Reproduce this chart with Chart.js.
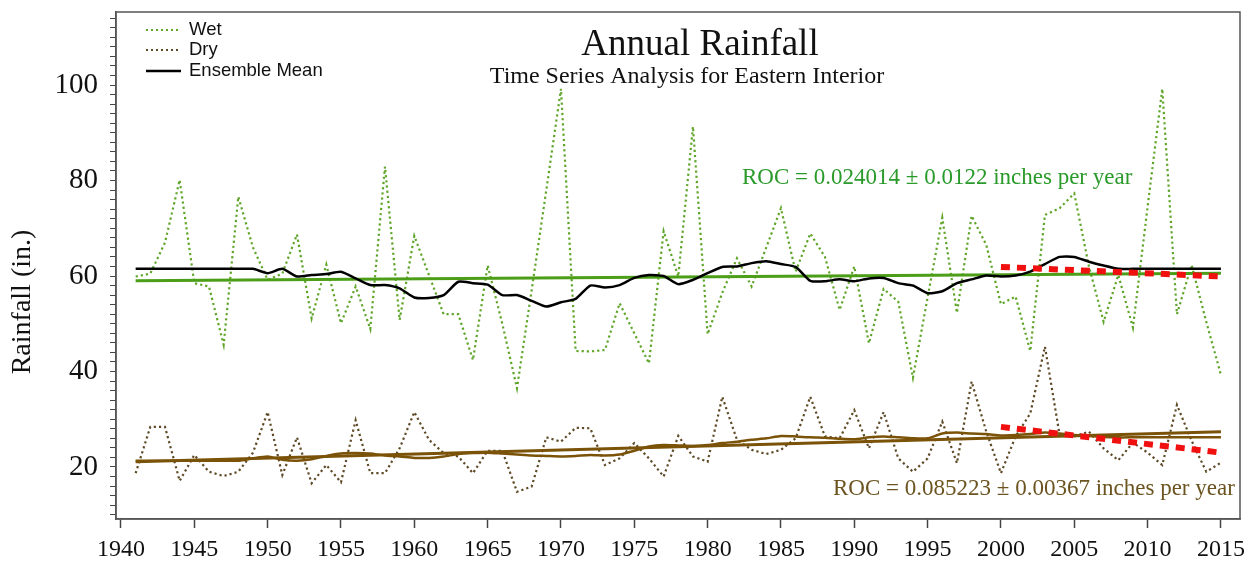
<!DOCTYPE html>
<html>
<head>
<meta charset="utf-8">
<script src="https://cdn.jsdelivr.net/npm/chart.js@4/dist/chart.umd.min.js"></script>
<style>
  body { margin: 0; background: #fff; }
</style>
</head>
<body>
<canvas id="rainChart" width="1254" height="571"></canvas>
<script>
const years = [1941, 1942, 1943, 1944, 1945, 1946, 1947, 1948, 1949, 1950,
    1951, 1952, 1953, 1954, 1955, 1956, 1957, 1958, 1959, 1960,
    1961, 1962, 1963, 1964, 1965, 1966, 1967, 1968, 1969, 1970,
    1971, 1972, 1973, 1974, 1975, 1976, 1977, 1978, 1979, 1980,
    1981, 1982, 1983, 1984, 1985, 1986, 1987, 1988, 1989, 1990,
    1991, 1992, 1993, 1994, 1995, 1996, 1997, 1998, 1999, 2000,
    2001, 2002, 2003, 2004, 2005, 2006, 2007, 2008, 2009, 2010,
    2011, 2012, 2013, 2014, 2015];

const wet = [59.9, 60.5, 67, 80.1, 58.5, 57.8, 45.6, 76.6, 66, 59.2,
    60.5, 68.7, 51.1, 62.4, 50.1, 57.8, 48.9, 82.9, 50.8, 68.4,
    60.2, 52.0, 52.0, 42.4, 62.2, 50, 36.5, 57, 78, 99.2,
    44.3, 44.2, 44.5, 54.3, 48, 41.7, 69.4, 59.9, 91.3, 47.8,
    56.5, 63.7, 57.8, 66, 74.2, 60.9, 68.9, 64, 52.9, 62,
    45.9, 57.3, 54.6, 38.7, 55.5, 72.2, 52.3, 72.6, 66.5, 54.1,
    55.7, 44.3, 72.8, 74.2, 77.3, 62, 50.4, 60.2, 49.2, 74.5,
    99.2, 52.0, 62.3, 50.4, 39.3];

const dry = [18.7, 28.4, 28.4, 17.1, 22.5, 19.0, 18.1, 19.0, 23, 31.5,
    18.3, 26.2, 16.6, 20.4, 16.8, 29.8, 18.7, 18.7, 23.9, 31.5,
    25.7, 22.9, 22.2, 18.7, 23.4, 23.4, 14.8, 15.9, 26.2, 25.3,
    28.2, 28.1, 20.4, 21.8, 25.0, 21.8, 18.0, 26.5, 22.2, 21.1,
    34.7, 25.7, 23.6, 22.7, 23.6, 26.0, 34.7, 26.4, 26.0, 31.9,
    23.9, 31.5, 21.8, 19.0, 21.8, 29.5, 20.8, 37.9, 27.4, 18.7,
    26.4, 31.2, 45.2, 26.7, 26.4, 27.4, 23.9, 21.4, 25.1, 23.0,
    20.4, 33.0, 25.5, 19.0, 20.9];

const wetMean = [61.5, 61.5, 61.5, 61.5, 61.5, 61.5, 61.5, 61.5, 61.5, 60.6,
    61.5, 59.9, 60.2, 60.4, 60.9, 59.5, 58.1, 58.1, 57.4, 55.5,
    55.4, 56.0, 58.8, 58.5, 58.2, 56.0, 56.0, 54.8, 53.6, 54.5,
    55.2, 58.0, 57.6, 58.1, 59.6, 60.2, 60.0, 58.3, 59.2, 60.6,
    61.9, 62.0, 62.7, 63.1, 62.5, 61.9, 59.0, 58.9, 59.3, 58.9,
    59.5, 59.6, 58.5, 58.0, 56.4, 56.8, 58.5, 59.3, 60.1, 59.9,
    60.1, 60.9, 62.5, 64.0, 64.0, 63.0, 62.2, 61.5, 61.5, 61.5,
    61.5, 61.5, 61.5, 61.5, 61.5];

const dryMean = [21.3, 21.3, 21.3, 21.3, 21.3, 21.3, 21.3, 21.3, 21.8, 22.2,
    21.5, 21.3, 21.6, 22.3, 22.8, 22.9, 22.8, 22.4, 22.2, 21.9,
    21.9, 22.2, 22.7, 22.9, 23.0, 22.8, 22.6, 22.4, 22.3, 22.2,
    22.3, 22.5, 22.4, 22.6, 23.4, 24.3, 24.6, 24.5, 24.4, 24.6,
    25.0, 25.3, 25.7, 26.0, 26.5, 26.4, 26.2, 26.1, 25.9, 25.8,
    26.2, 26.4, 26.2, 26.0, 26.0, 27.0, 27.2, 27.0, 26.9, 26.6,
    26.7, 26.9, 27.2, 27.0, 26.7, 26.5, 26.3, 26.2, 26.2, 26.2,
    26.2, 26.2, 26.2, 26.2, 26.2];

// straight fits: full record and since 2000
const trendYears = [1941, 2015];
const wetTrend = [59.0, 60.6];
const dryTrend = [21.1, 27.4];
const recentYears = [2000, 2015];
const wetRecent = [61.9, 59.9];
const dryRecent = [28.4, 23.0];

const xTicks = [1940, 1945, 1950, 1955, 1960, 1965, 1970, 1975, 1980, 1985, 1990, 1995, 2000, 2005, 2010, 2015];
const yLabels = [20, 40, 60, 80, 100];

const serif = "'Liberation Serif', 'Times New Roman', serif";
const sans = "'Liberation Sans', Arial, sans-serif";

function pts(xs, ys) {
    return xs.map((x, i) => ({x: x, y: ys[i]}));
}

const wetColor = '#5fa52a';
const dryColor = '#5e4a26';
const trendGreen = '#4c9e18';
const brown = '#7a5208';

const overlay = {
    id: 'overlay',
    afterDraw(chart) {
        const ctx = chart.ctx;
        const a = chart.chartArea;
        ctx.save();
        ctx.strokeStyle = '#555';
        ctx.lineWidth = 1.5;
        ctx.strokeRect(a.left, a.top, a.right - a.left, a.bottom - a.top);

        ctx.fillStyle = '#111';
        ctx.textAlign = 'center';
        ctx.textBaseline = 'alphabetic';
        ctx.font = '37px ' + serif;
        ctx.fillText('Annual Rainfall', 700, 55);
        ctx.font = '24px ' + serif;
        ctx.fillText('Time Series Analysis for Eastern Interior', 687, 83);

        ctx.textAlign = 'left';
        ctx.font = '23px ' + serif;
        ctx.fillStyle = '#2a9a2a';
        ctx.fillText('ROC = 0.024014 \u00b1 0.0122 inches per year', 742, 184);
        ctx.fillStyle = '#6b5420';
        ctx.fillText('ROC = 0.085223 \u00b1 0.00367 inches per year', 833, 495);

        // y axis title, placed by hand
        ctx.save();
        ctx.translate(30, 302);
        ctx.rotate(-Math.PI / 2);
        ctx.textAlign = 'center';
        ctx.fillStyle = '#111';
        ctx.font = '28px ' + serif;
        ctx.fillText('Rainfall (in.)', 0, 0);
        ctx.restore();

        // legend
        const items = [
            {label: 'Wet', color: wetColor, dash: [2, 3], width: 2, y: 30},
            {label: 'Dry', color: dryColor, dash: [2, 3], width: 2, y: 50},
            {label: 'Ensemble Mean', color: '#000', dash: [], width: 2.5, y: 71}
        ];
        ctx.font = '18.5px ' + sans;
        ctx.textBaseline = 'middle';
        items.forEach(it => {
            ctx.beginPath();
            ctx.setLineDash(it.dash);
            ctx.strokeStyle = it.color;
            ctx.lineWidth = it.width;
            ctx.moveTo(146, it.y);
            ctx.lineTo(181, it.y);
            ctx.stroke();
            ctx.fillStyle = '#111';
            ctx.fillText(it.label, 189, it.y);
        });
        ctx.restore();
    }
};

const canvas = document.getElementById('rainChart').getContext('2d');
const myChart = new Chart(canvas, {
    type: 'line',
    data: {
        datasets: [
            {data: pts(recentYears, wetRecent), borderColor: '#f01010', borderWidth: 6, borderDash: [9, 7]},
            {data: pts(recentYears, dryRecent), borderColor: '#f01010', borderWidth: 6, borderDash: [9, 7]},
            {data: pts(years, wetMean), borderColor: '#000', borderWidth: 2.5, tension: 0.2},
            {data: pts(years, dryMean), borderColor: brown, borderWidth: 2.5, tension: 0.2},
            {data: pts(trendYears, wetTrend), borderColor: trendGreen, borderWidth: 3},
            {data: pts(trendYears, dryTrend), borderColor: brown, borderWidth: 3},
            {data: pts(years, wet), borderColor: wetColor, borderWidth: 2.2, borderDash: [2.2, 3]},
            {data: pts(years, dry), borderColor: dryColor, borderWidth: 2.2, borderDash: [2.2, 3]}
        ]
    },
    options: {
        responsive: false,
        devicePixelRatio: 1,
        animation: false,
        events: [],
        layout: {padding: {left: 0, right: 14, top: 12, bottom: 0}},
        elements: {point: {radius: 0}, line: {fill: false}},
        plugins: {legend: {display: false}, tooltip: {enabled: false}},
        scales: {
            x: {
                type: 'linear',
                min: 1939.66,
                max: 2016.3,
                afterFit(scale) {
                    scale.height = 52;
                    scale.paddingLeft = 0;
                    scale.paddingRight = 0;
                },
                afterBuildTicks(scale) { scale.ticks = xTicks.map(v => ({value: v})); },
                ticks: {
                    color: '#111',
                    font: {family: serif, size: 24},
                    padding: 7,
                    maxRotation: 0,
                    autoSkip: false,
                    callback: v => String(v)
                },
                grid: {drawOnChartArea: false, tickLength: 9, color: '#444', tickWidth: 1.5},
                border: {display: true, color: '#555', width: 1.5}
            },
            y: {
                min: 9.1,
                max: 115.3,
                afterFit(scale) {
                    scale.width = 116;
                    scale.paddingTop = 0;
                    scale.paddingBottom = 0;
                },
                ticks: {
                    stepSize: 2,
                    includeBounds: false,
                    autoSkip: false,
                    color: '#111',
                    font: {family: serif, size: 29},
                    padding: 12,
                    callback: v => (yLabels.indexOf(v) >= 0 ? String(v) : '')
                },
                grid: {drawOnChartArea: false, tickLength: 6, color: '#444', tickWidth: 1},
                border: {display: true, color: '#555', width: 1.5}
            }
        }
    },
    plugins: [overlay]
});
</script>
</body>
</html>
